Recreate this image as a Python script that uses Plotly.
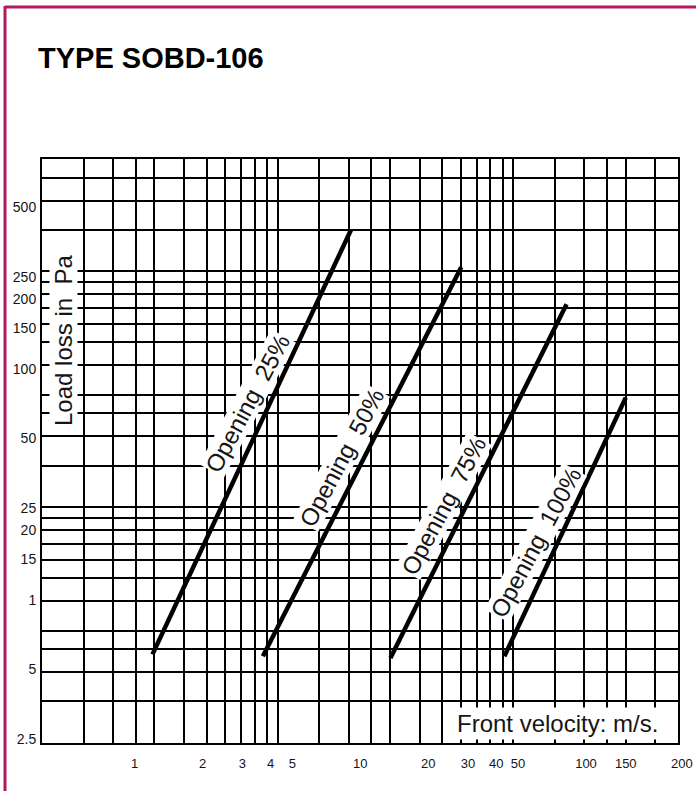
import math
import plotly.graph_objects as go

# Load loss of the SOBD-106 damper against front velocity, one straight
# log-log segment per blade opening (lower end, upper end).
openings = ["25%", "50%", "75%", "100%"]
velocity_25 = [1.2, 9.1]
loss_25 = [5.8, 400]
velocity_50 = [3.7, 28]
loss_50 = [5.7, 275]
velocity_75 = [13.6, 82]
loss_75 = [5.6, 190]
velocity_100 = [43.5, 150]
loss_100 = [5.7, 75]

# position of each curve label along its segment (0 = lower end, 1 = upper end)
label_at = [0.59, 0.51, 0.43, 0.44]

x_tick_vals = [1, 2, 3, 4, 5, 10, 20, 30, 40, 50, 100, 150]
x_tick_text = ["1", "2", "3", "4", "5", "10", "20", "30", "40", "50", "100", "150"]
x_last_label = "200"
y_tick_vals = [2.5, 5, 10, 15, 20, 25, 50, 100, 150, 200, 250, 500]
y_tick_text = ["2.5", "5", "1", "15", "20", "25", "50", "100", "150", "200", "250", "500"]

# printed log paper: 500 cells across, 300 cells up, ruled at these steps per decade
paper_steps = [1, 1.5, 2, 2.5, 3, 4, 5, 6, 7, 8, 9]
paper_cells_x = 500
paper_cells_y = 300

W, H = 696, 791
ML, MR, MT, MB = 42, 18, 159, 48
PW, PH = W - ML - MR, H - MT - MB
FONT = "Liberation Sans, Arial, sans-serif"
INK = "#151515"
FRAME = "#b3175f"


def px_x(px):
    return (px - ML) / PW


def px_y(py):
    return 1 - (py - MT) / PH


def rulings(limit):
    vals = []
    for k in range(4):
        for s in paper_steps:
            v = s * 10 ** k
            if v <= limit + 1e-9:
                vals.append(v)
    return vals


series = [
    (velocity_25, loss_25),
    (velocity_50, loss_50),
    (velocity_75, loss_75),
    (velocity_100, loss_100),
]

fig = go.Figure()
# the ruled paper lives on the primary axes; an empty frame trace keeps it drawn
fig.add_trace(go.Scatter(
    x=[1, paper_cells_x], y=[1, paper_cells_y], mode="markers",
    marker=dict(opacity=0), showlegend=False, hoverinfo="skip",
))
for name, (v, p) in zip(openings, series):
    fig.add_trace(go.Scatter(
        x=v, y=p, xaxis="x2", yaxis="y2", mode="lines",
        line=dict(color="black", width=4.5), name="Opening " + name,
        showlegend=False, hoverinfo="skip",
    ))

annotations = []
for name, (v, p), t in zip(openings, series, label_at):
    lx = math.log10(v[0]) + t * (math.log10(v[1]) - math.log10(v[0]))
    ly = math.log10(p[0]) + t * (math.log10(p[1]) - math.log10(p[0]))
    annotations.append(dict(
        x=lx, y=ly, xref="x2", yref="y2", showarrow=False,
        xanchor="center", yanchor="middle",
        text="Opening\u00a0 " + name, textangle=-62, xshift=-22,
        font=dict(family=FONT, size=24, color=INK),
        bgcolor="white", borderpad=0,
    ))

annotations += [
    dict(x=px_x(36), y=px_y(58), xref="paper", yref="paper", showarrow=False,
         xanchor="left", yanchor="middle", text="<b>TYPE SOBD-106</b>",
         font=dict(family=FONT, size=29, color="black")),
    dict(x=px_x(63), y=px_y(341), xref="paper", yref="paper", showarrow=False,
         xanchor="center", yanchor="middle",
         text="Load loss in\u00a0 Pa", textangle=-90,
         font=dict(family=FONT, size=24, color=INK), bgcolor="white", borderpad=0),
    dict(x=px_x(557), y=px_y(723), xref="paper", yref="paper", showarrow=False,
         xanchor="center", yanchor="middle",
         text="Front velocity: m/s.",
         font=dict(family=FONT, size=24, color=INK), bgcolor="white", borderpad=2),
    dict(x=px_x(682), y=px_y(763), xref="paper", yref="paper", showarrow=False,
         xanchor="center", yanchor="middle",
         text=x_last_label, font=dict(family=FONT, size=13, color=INK)),
]

grid_common = dict(
    type="log", showticklabels=False, ticks="", showgrid=True,
    gridcolor="black", gridwidth=2, zeroline=False,
    showline=True, linecolor="black", linewidth=2, mirror=True,
)

fig.update_layout(
    width=W, height=H,
    margin=dict(l=ML, r=MR, t=MT, b=MB, pad=0),
    paper_bgcolor="white", plot_bgcolor="white",
    xaxis=dict(range=[0, math.log10(paper_cells_x)], tickvals=rulings(paper_cells_x),
               anchor="y", **grid_common),
    yaxis=dict(range=[0, math.log10(paper_cells_y)], tickvals=rulings(paper_cells_y),
               anchor="x", **grid_common),
    xaxis2=dict(
        type="log", overlaying="x", anchor="y", side="bottom",
        range=[-0.4103, 2.4076], tickvals=x_tick_vals, ticktext=x_tick_text,
        showgrid=False, zeroline=False, showline=False,
        ticks="outside", ticklen=8, tickcolor="rgba(0,0,0,0)",
        tickfont=dict(family=FONT, size=13, color=INK),
    ),
    yaxis2=dict(
        type="log", overlaying="y", anchor="x", side="left",
        range=[0.380, 2.908], tickvals=y_tick_vals, ticktext=y_tick_text,
        showgrid=False, zeroline=False, showline=False,
        ticks="outside", ticklen=2, tickcolor="rgba(0,0,0,0)",
        tickfont=dict(family=FONT, size=14, color=INK),
    ),
    annotations=annotations,
    shapes=[
        dict(type="line", xref="paper", yref="paper", x0=px_x(5), x1=px_x(W),
             y0=px_y(7), y1=px_y(7), line=dict(color=FRAME, width=3)),
        dict(type="line", xref="paper", yref="paper", x0=px_x(5), x1=px_x(5),
             y0=px_y(6), y1=px_y(H), line=dict(color=FRAME, width=3)),
    ],
    showlegend=False,
)

fig.write_html("out.html")
